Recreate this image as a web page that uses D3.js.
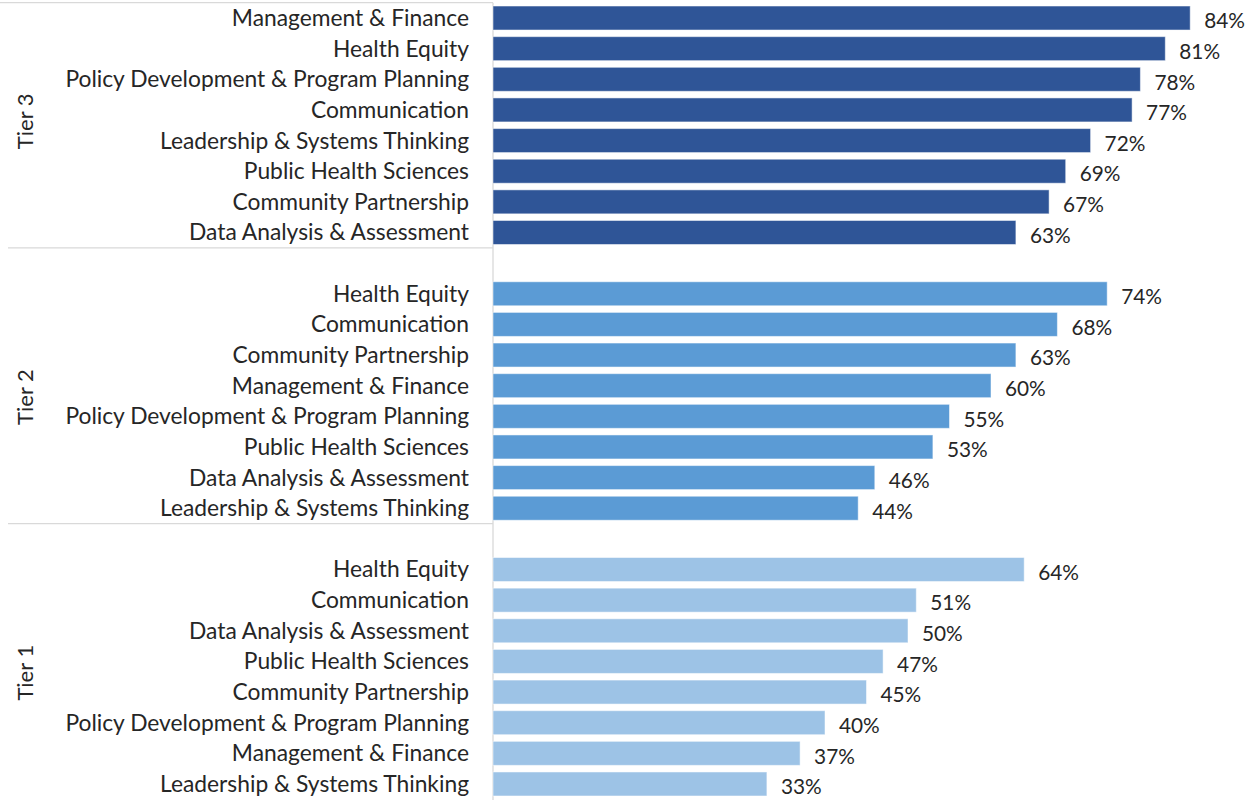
<!DOCTYPE html>
<html>
<head>
<meta charset="utf-8">
<script src="https://cdn.jsdelivr.net/npm/d3@7"></script>
<style>
  body { margin: 0; background: #fff; }
  svg text { font-family: Lato, "Open Sans", sans-serif; fill: #262626; }
</style>
</head>
<body>
<svg id="chart" width="1251" height="800"></svg>
<script>
// tiers from top to bottom
const tiers = ["Tier 3", "Tier 2", "Tier 1"]
const tierColors = ["#2f5597", "#5b9bd5", "#9dc3e6"]

const tier3Labels = ["Management & Finance", "Health Equity", "Policy Development & Program Planning", "Communication",
    "Leadership & Systems Thinking", "Public Health Sciences", "Community Partnership", "Data Analysis & Assessment"]
const tier3Values = [0.84, 0.81, 0.78, 0.77, 0.72, 0.69, 0.67, 0.63]

const tier2Labels = ["Health Equity", "Communication", "Community Partnership", "Management & Finance",
    "Policy Development & Program Planning", "Public Health Sciences", "Data Analysis & Assessment", "Leadership & Systems Thinking"]
const tier2Values = [0.74, 0.68, 0.63, 0.60, 0.55, 0.53, 0.46, 0.44]

const tier1Labels = ["Health Equity", "Communication", "Data Analysis & Assessment", "Public Health Sciences",
    "Community Partnership", "Policy Development & Program Planning", "Management & Finance", "Leadership & Systems Thinking"]
const tier1Values = [0.64, 0.51, 0.50, 0.47, 0.45, 0.40, 0.37, 0.33]

const tierLabels = [tier3Labels, tier2Labels, tier1Labels]
const tierValues = [tier3Values, tier2Values, tier1Values]

// build slots: each tier's rows, one blank slot between tiers
let slots = []
let rows = []
tiers.forEach((tier, ti) => {
    if (ti > 0) slots.push('gap' + ti)
    tierLabels[ti].forEach((label, i) => {
        let key = tier + '|' + label
        slots.push(key)
        rows.push({key: key, tier: ti, label: label, value: tierValues[ti][i]})
    })
})

const svg = d3.select('#chart')
const axisX = 493

let y = d3.scaleBand().domain(slots).range([2.7, 799.3]).paddingInner(0).paddingOuter(0)
let x = d3.scaleLinear().domain([0, 1]).range([axisX, axisX + 830])

// frame lines: top, tier separators, axis
let lineG = svg.append('g').attr('stroke', '#d9d9d9').attr('stroke-width', 1.3)
lineG.append('line').attr('x1', 0).attr('x2', axisX).attr('y1', y.range()[0]).attr('y2', y.range()[0])
slots.filter(s => s.startsWith('gap')).forEach(s => {
    lineG.append('line').attr('x1', 8).attr('x2', axisX).attr('y1', y(s)).attr('y2', y(s))
})

// bars
let barH = 24
svg.append('g').selectAll('rect').data(rows).enter().append('rect')
    .attr('x', x(0))
    .attr('y', d => y(d.key) + (y.bandwidth() - barH) / 2)
    .attr('width', d => x(d.value) - x(0))
    .attr('height', barH)
    .attr('fill', d => tierColors[d.tier])
    .attr('stroke', '#ffffff')
    .attr('stroke-opacity', 0.5)
    .attr('stroke-width', 1)

lineG.append('line').attr('x1', axisX).attr('x2', axisX).attr('y1', y.range()[0]).attr('y2', 800)

// category labels
svg.append('g').selectAll('text').data(rows).enter().append('text')
    .attr('x', axisX - 24)
    .attr('y', d => y(d.key) + y.bandwidth() / 2)
    .attr('dy', '0.35em')
    .attr('text-anchor', 'end')
    .attr('font-size', 22.8)
    .text(d => d.label)

// value labels
svg.append('g').selectAll('text').data(rows).enter().append('text')
    .attr('x', d => x(d.value) + 14)
    .attr('y', d => y(d.key) + y.bandwidth() / 2 + 3)
    .attr('dy', '0.35em')
    .attr('font-size', 20.8)
    .text(d => d3.format('.0%')(d.value))

// tier labels
tiers.forEach((tier, ti) => {
    let keys = rows.filter(r => r.tier === ti).map(r => r.key)
    let cy = (y(keys[0]) + y(keys[keys.length - 1]) + y.bandwidth()) / 2 - 4
    svg.append('text')
        .attr('transform', 'translate(33,' + cy + ') rotate(-90)')
        .attr('text-anchor', 'middle')
        .attr('font-size', 22)
        .text(tier)
})
</script>
</body>
</html>
